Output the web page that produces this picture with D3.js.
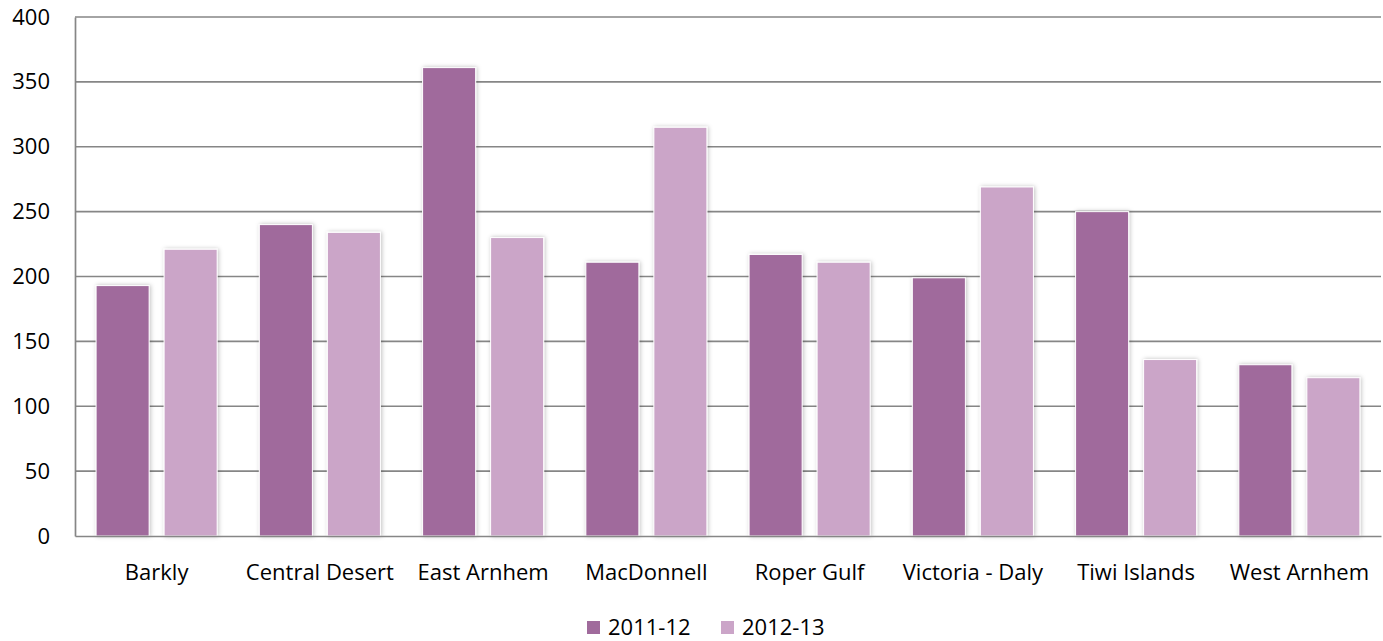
<!DOCTYPE html>
<html lang="en">
<head>
    <title>Bar Chart</title>
    <script src="https://d3js.org/d3.v7.min.js"></script>
    <style>
        body { margin: 0; background: #fff; }
        svg text { font-family: "Open Sans", "Noto Sans", sans-serif; fill: #000; }
    </style>
</head>
<body>
    <svg id="chart"></svg>
    <script>
        var categories = ["Barkly", "Central Desert", "East Arnhem", "MacDonnell",
            "Roper Gulf", "Victoria - Daly", "Tiwi Islands", "West Arnhem"];
        var seriesNames = ["2011-12", "2012-13"];
        var values2011 = [193, 240, 361, 211, 217, 199, 250, 132];
        var values2012 = [221, 234, 230, 315, 211, 269, 136, 122];
        var yTicks = [0, 50, 100, 150, 200, 250, 300, 350, 400];
        var colors = ["#a06b9c", "#cba5c8"];

        var width = 1383, height = 641;
        var margins = { left: 75, top: 17, right: 2, bottom: 105 };
        var fontSize = "22px";

        var svg = d3.select("#chart")
            .attr("width", width)
            .attr("height", height);

        var defs = svg.append("defs");
        var shadow = defs.append("filter").attr("id", "shadow")
            .attr("x", "-20%").attr("y", "-5%").attr("width", "140%").attr("height", "110%");
        shadow.append("feDropShadow")
            .attr("dx", 1).attr("dy", 0).attr("stdDeviation", 2)
            .attr("flood-color", "#000").attr("flood-opacity", 0.25);

        var xscale = d3.scaleBand()
            .domain(categories)
            .range([margins.left, width - margins.right]);
        var x1 = d3.scaleBand()
            .domain(seriesNames)
            .range([0, xscale.bandwidth()])
            .paddingInner(0.22)
            .paddingOuter(0.31);
        var yscale = d3.scaleLinear()
            .domain([0, 400])
            .range([height - margins.bottom, margins.top]);

        // gridlines
        svg.append("g")
            .selectAll("line")
            .data(yTicks.slice(1))
            .enter()
            .append("line")
            .attr("x1", margins.left)
            .attr("x2", width - margins.right)
            .attr("y1", function (d) { return yscale(d); })
            .attr("y2", function (d) { return yscale(d); })
            .attr("stroke", "#868686")
            .attr("stroke-width", 1.7);

        // y axis
        var yaxis = d3.axisLeft(yscale).tickValues(yTicks).tickSize(0).tickPadding(25);
        var gy = svg.append("g")
            .attr("transform", "translate(" + margins.left + ",0)")
            .call(yaxis);
        gy.select(".domain").attr("stroke", "#868686").attr("stroke-width", 1.7);
        gy.selectAll("text").style("font-size", fontSize);

        // bars
        var groups = svg.append("g")
            .selectAll("g")
            .data(categories)
            .enter()
            .append("g")
            .attr("transform", function (d) { return "translate(" + xscale(d) + ",0)"; });

        groups.selectAll("rect")
            .data(function (d, i) {
                return [
                    { s: seriesNames[0], v: values2011[i], c: colors[0] },
                    { s: seriesNames[1], v: values2012[i], c: colors[1] }
                ];
            })
            .enter()
            .append("rect")
            .attr("x", function (d) { return x1(d.s); })
            .attr("width", x1.bandwidth())
            .attr("y", function (d) { return yscale(d.v); })
            .attr("height", function (d) { return yscale(0) - yscale(d.v); })
            .attr("fill", function (d) { return d.c; })
            .attr("stroke", "#fff")
            .attr("stroke-width", 1)
            .attr("filter", "url(#shadow)");

        // x axis
        var xaxis = d3.axisBottom(xscale).tickSize(0).tickPadding(28);
        var gx = svg.append("g")
            .attr("transform", "translate(0," + yscale(0) + ")")
            .call(xaxis);
        gx.select(".domain").attr("stroke", "#868686").attr("stroke-width", 1.7);
        gx.selectAll("text").style("font-size", fontSize);

        // legend
        var legendX = [587, 721];
        var legend = svg.append("g")
            .selectAll("g")
            .data(seriesNames)
            .enter()
            .append("g")
            .attr("transform", function (d, i) { return "translate(" + legendX[i] + ",621)"; });
        legend.append("rect")
            .attr("width", 13)
            .attr("height", 13)
            .attr("fill", function (d, i) { return colors[i]; });
        legend.append("text")
            .attr("x", 21)
            .attr("y", 14)
            .style("font-size", fontSize)
            .text(function (d) { return d; });
    </script>
</body>
</html>
